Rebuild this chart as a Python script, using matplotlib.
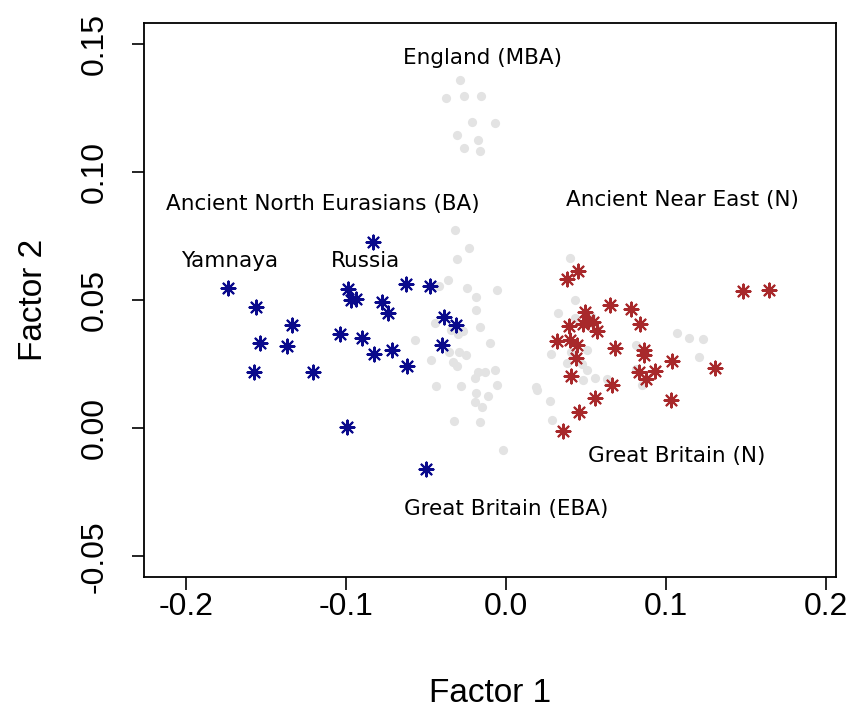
import matplotlib
matplotlib.use("Agg")
import matplotlib.pyplot as plt

# background samples (gray)
gray_x = [-0.0286, -0.0379, -0.0263, -0.0159, -0.0215, -0.0072, -0.0307, -0.0178, -0.0265, -0.0165,
          -0.0321, -0.0230, -0.0306, -0.0362, -0.0418, -0.0245, -0.0057, -0.0186, -0.0190, -0.0446,
          -0.0165, -0.0348, -0.0301, -0.0271, -0.0573, -0.0103, -0.0359, -0.0293, -0.0253, -0.0471,
          -0.0332, -0.0305, -0.0176, -0.0132, -0.0070, -0.0197, -0.0440, -0.0280, -0.0057, -0.0186,
          -0.0117, -0.0197, -0.0149, -0.0329, -0.0165, -0.0020,
          0.0396, 0.0429, 0.0321, 0.0427, 0.0532, 0.1066, 0.1139, 0.1231, 0.1202, 0.0282,
          0.0504, 0.0402, 0.0808, 0.0379, 0.0476, 0.0507, 0.0557, 0.0482, 0.0629, 0.0811,
          0.0847, 0.0184, 0.0192, 0.0276, 0.0284]
gray_y = [0.1361, 0.1290, 0.1296, 0.1298, 0.1194, 0.1191, 0.1146, 0.1126, 0.1095, 0.1081,
          0.0774, 0.0702, 0.0660, 0.0579, 0.0554, 0.0547, 0.0540, 0.0513, 0.0462, 0.0412,
          0.0394, 0.0382, 0.0369, 0.0380, 0.0346, 0.0333, 0.0299, 0.0297, 0.0286, 0.0265,
          0.0260, 0.0245, 0.0220, 0.0220, 0.0226, 0.0196, 0.0167, 0.0166, 0.0168, 0.0138,
          0.0128, 0.0103, 0.0083, 0.0030, 0.0025, -0.0086,
          0.0664, 0.0500, 0.0450, 0.0429, 0.0438, 0.0373, 0.0354, 0.0350, 0.0279, 0.0292,
          0.0305, 0.0297, 0.0324, 0.0254, 0.0250, 0.0229, 0.0198, 0.0189, 0.0192, 0.0230,
          0.0169, 0.0160, 0.0148, 0.0108, 0.0033]

# Great Britain (EBA) - blue
blue_x = [-0.1740, -0.1561, -0.1339, -0.1538, -0.1372, -0.1576, -0.1207, -0.0998, -0.0831, -0.0991,
          -0.0970, -0.0939, -0.0627, -0.0479, -0.0779, -0.0738, -0.0388, -0.0317, -0.1039, -0.0902,
          -0.0825, -0.0713, -0.0623, -0.0402, -0.0502]
blue_y = [0.0547, 0.0475, 0.0402, 0.0334, 0.0320, 0.0218, 0.0220, 0.0005, 0.0729, 0.0543,
          0.0501, 0.0506, 0.0562, 0.0555, 0.0494, 0.0449, 0.0433, 0.0403, 0.0369, 0.0353,
          0.0291, 0.0306, 0.0245, 0.0326, -0.0158]

# Great Britain (N) - red
red_x = [0.0448, 0.0379, 0.0646, 0.0777, 0.0490, 0.0835, 0.0392, 0.0479, 0.0510, 0.0542,
         0.0567, 0.0319, 0.0401, 0.0440, 0.0434, 0.0677, 0.0860, 0.0860, 0.1035, 0.0931,
         0.0831, 0.0871, 0.0404, 0.0660, 0.0552, 0.1028, 0.0452, 0.0353, 0.1301, 0.1482, 0.1644]
red_y = [0.0614, 0.0584, 0.0481, 0.0465, 0.0454, 0.0406, 0.0400, 0.0408, 0.0419, 0.0415,
         0.0380, 0.0342, 0.0344, 0.0324, 0.0273, 0.0314, 0.0304, 0.0288, 0.0262, 0.0223,
         0.0220, 0.0191, 0.0206, 0.0168, 0.0119, 0.0110, 0.0064, -0.0009, 0.0235, 0.0536, 0.0540]

labels = ["England (MBA)", "Ancient North Eurasians (BA)", "Yamnaya", "Russia",
          "Ancient Near East (N)", "Great Britain (N)", "Great Britain (EBA)"]
label_x = [-0.0150, -0.1143, -0.1731, -0.0877, 0.1101, 0.1064, 0.0000]
label_y = [0.1444, 0.0877, 0.0654, 0.0654, 0.0892, -0.0106, -0.0313]

xticks = [-0.2, -0.1, 0.0, 0.1, 0.2]
xtick_labels = ["-0.2", "-0.1", "0.0", "0.1", "0.2"]
yticks = [-0.05, 0.00, 0.05, 0.10, 0.15]
ytick_labels = ["-0.05", "0.00", "0.05", "0.10", "0.15"]

fig = plt.figure(figsize=(8.51, 7.11), dpi=100)
ax = fig.add_axes([0.1698, 0.1885, 0.8126, 0.7785])

ax.scatter(gray_x, gray_y, s=44, color="#e3e3e3", linewidths=0, zorder=1)
ax.scatter(blue_x, blue_y, s=100, marker=(8, 2, 0), color="#0a0a8c", linewidths=1.5, zorder=2)
ax.scatter(red_x, red_y, s=100, marker=(8, 2, 0), color="#a8292b", linewidths=1.5, zorder=3)

for t, x, y in zip(labels, label_x, label_y):
    ax.text(x, y, t, ha="center", va="center", fontsize=15.5, family="DejaVu Sans", color="black")

ax.set_xlim(-0.21 - 0.016, 0.19 + 0.016)
ax.set_ylim(-0.05 - 0.008, 0.15 + 0.008)
ax.set_xticks(xticks)
ax.set_xticklabels(xtick_labels, family="Liberation Sans", fontsize=23)
ax.set_yticks(yticks)
ax.set_yticklabels(ytick_labels, family="Liberation Sans", fontsize=23, rotation=90, va="center")
ax.tick_params(direction="out", length=9, width=1.2)
ax.tick_params(axis="x", pad=2)
ax.tick_params(axis="y", pad=16)
for sp in ax.spines.values():
    sp.set_linewidth(1.3)

ax.set_xlabel("Factor 1", family="Liberation Sans", fontsize=24, labelpad=40)
ax.set_ylabel("Factor 2", family="Liberation Sans", fontsize=24, labelpad=22)

fig.savefig("out.png", dpi=100)
